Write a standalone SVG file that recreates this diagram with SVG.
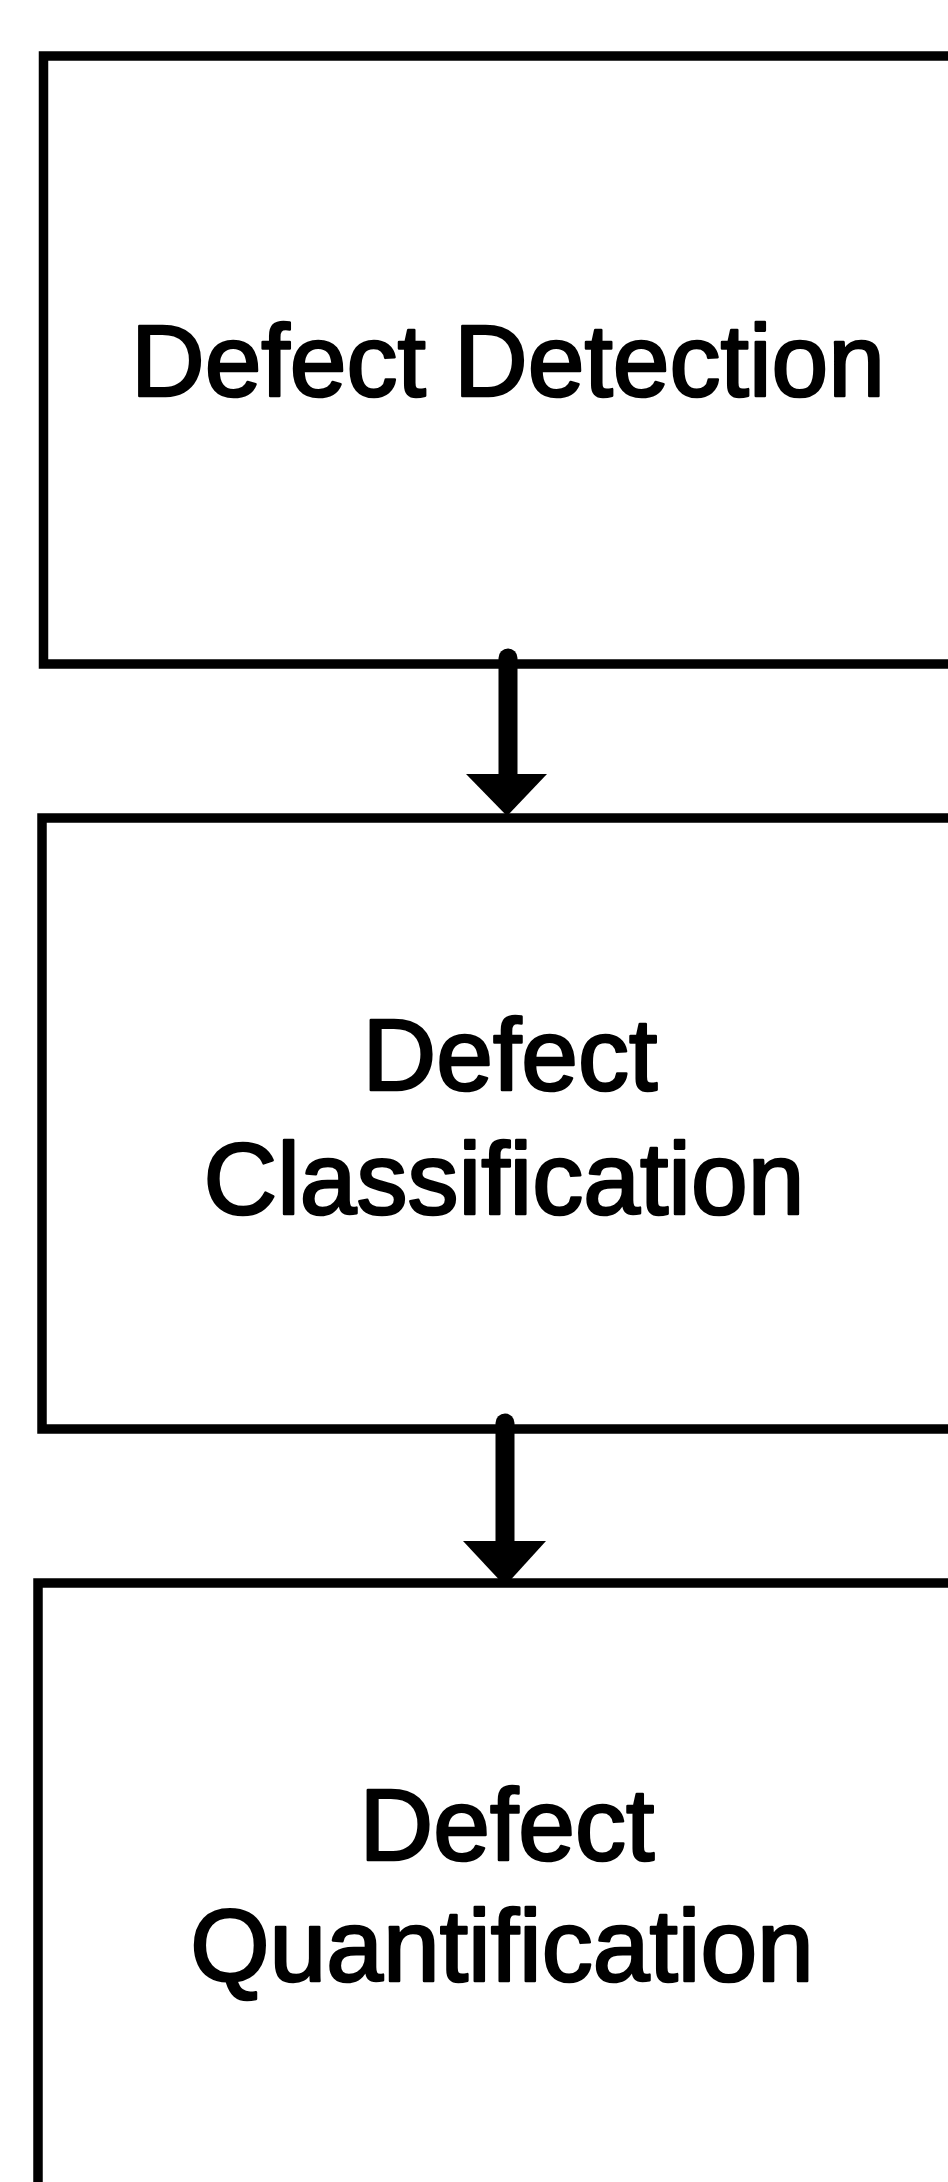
<svg xmlns="http://www.w3.org/2000/svg" width="948" height="2182" viewBox="0 0 948 2182">
<defs>
<style>
.box{fill:#fff;stroke:#000;stroke-width:9.5}
.lbl{font-family:"Liberation Sans",Arial,sans-serif;font-size:102px;fill:#000;text-anchor:middle;stroke:#000;stroke-width:2.6;stroke-linejoin:round}
.shaft{stroke:#000;stroke-width:19;stroke-linecap:round}
.head{fill:#000}
</style>
</defs>
<rect width="948" height="2182" fill="#fff"/>
<g id="node-detection">
<rect class="box" x="43.5" y="56" width="940" height="608"/>
<text class="lbl" x="508" y="396">Defect Detection</text>
</g>
<g id="node-classification">
<rect class="box" x="42" y="818" width="940" height="611"/>
<text class="lbl" x="510" y="1090">Defect</text>
<text class="lbl" x="504" y="1214">Classification</text>
</g>
<g id="node-quantification">
<rect class="box" x="38" y="1583" width="940" height="700"/>
<text class="lbl" x="507" y="1860">Defect</text>
<text class="lbl" x="502" y="1981">Quantification</text>
</g>
<g id="connectors">
<line class="shaft" x1="508" y1="658" x2="508" y2="778"/>
<polygon class="head" points="466,774 547,774 507,816"/>
<line class="shaft" x1="505" y1="1423" x2="505" y2="1545"/>
<polygon class="head" points="463,1541 546,1541 505,1586"/>
</g>
</svg>
